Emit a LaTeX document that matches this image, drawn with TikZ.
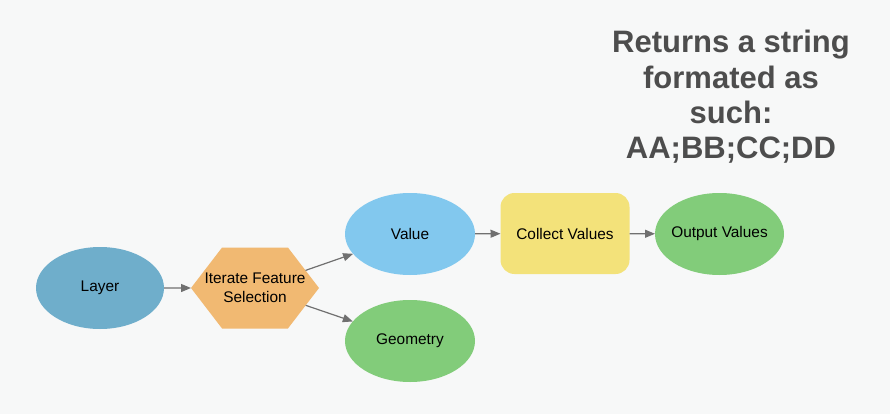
\documentclass[tikz,border=0pt]{standalone}
\usepackage{fontspec}
\setmainfont{Liberation Sans}
\usetikzlibrary{shapes.geometric,shapes.symbols,arrows.meta}
\definecolor{bg}{HTML}{F7F8F8}
\definecolor{layerc}{HTML}{6FAECB}
\definecolor{hexc}{HTML}{F1B972}
\definecolor{valuec}{HTML}{82C8EE}
\definecolor{greenc}{HTML}{82CC7A}
\definecolor{yellowc}{HTML}{F3E27A}
\definecolor{arrowc}{HTML}{707070}
\definecolor{titlec}{HTML}{4D4D4D}
\tikzset{
  base/.style={inner sep=0pt, outer sep=0pt, draw=none, font=\fontsize{15.4}{18.5}\selectfont, text=black, align=center},
  oval/.style={base, ellipse, minimum width=130pt, minimum height=82pt},
  tool/.style={base, rectangle, rounded corners=14pt, minimum width=129pt, minimum height=81pt},
  hexa/.style={base, signal, signal to=west and east, signal pointer angle=105, minimum width=128pt, minimum height=81pt},
  conn/.style={draw=arrowc, line width=1.2pt, -{Triangle[length=10pt,width=8pt]}},
}
\begin{document}
\begin{tikzpicture}[x=1pt,y=-1pt]
\fill[bg] (0,0) rectangle (890,414);
\useasboundingbox (0,0) rectangle (890,414);
\node[oval, fill=layerc, minimum width=128pt] (layer) at (100,288) {Layer};
\node[hexa, fill=hexc] (iter) at (255,288) {\makebox[0pt]{Iterate Feature}\\\makebox[0pt]{Selection}};
\node[oval, fill=valuec] (value) at (410,234) {Value};
\node[oval, fill=greenc] (geom) at (410,341) {Geometry};
\node[tool, fill=yellowc] (collect) at (565,233.5) {Collect Values};
\node[oval, fill=greenc, minimum width=129pt] (output) at (719.5,234) {\makebox[0pt]{Output Values}};
\node[base, text=titlec, font=\fontsize{31}{35.3}\selectfont\bfseries] (title) at (731,97) {Returns a string\\formated as\\such:\\AA;BB;CC;DD};
\draw[conn] (layer) -- (iter);
\draw[conn] (iter) -- (value);
\draw[conn] (iter) -- (geom);
\draw[conn] (value) -- (collect);
\draw[conn] (collect) -- (output);
\end{tikzpicture}
\end{document}
